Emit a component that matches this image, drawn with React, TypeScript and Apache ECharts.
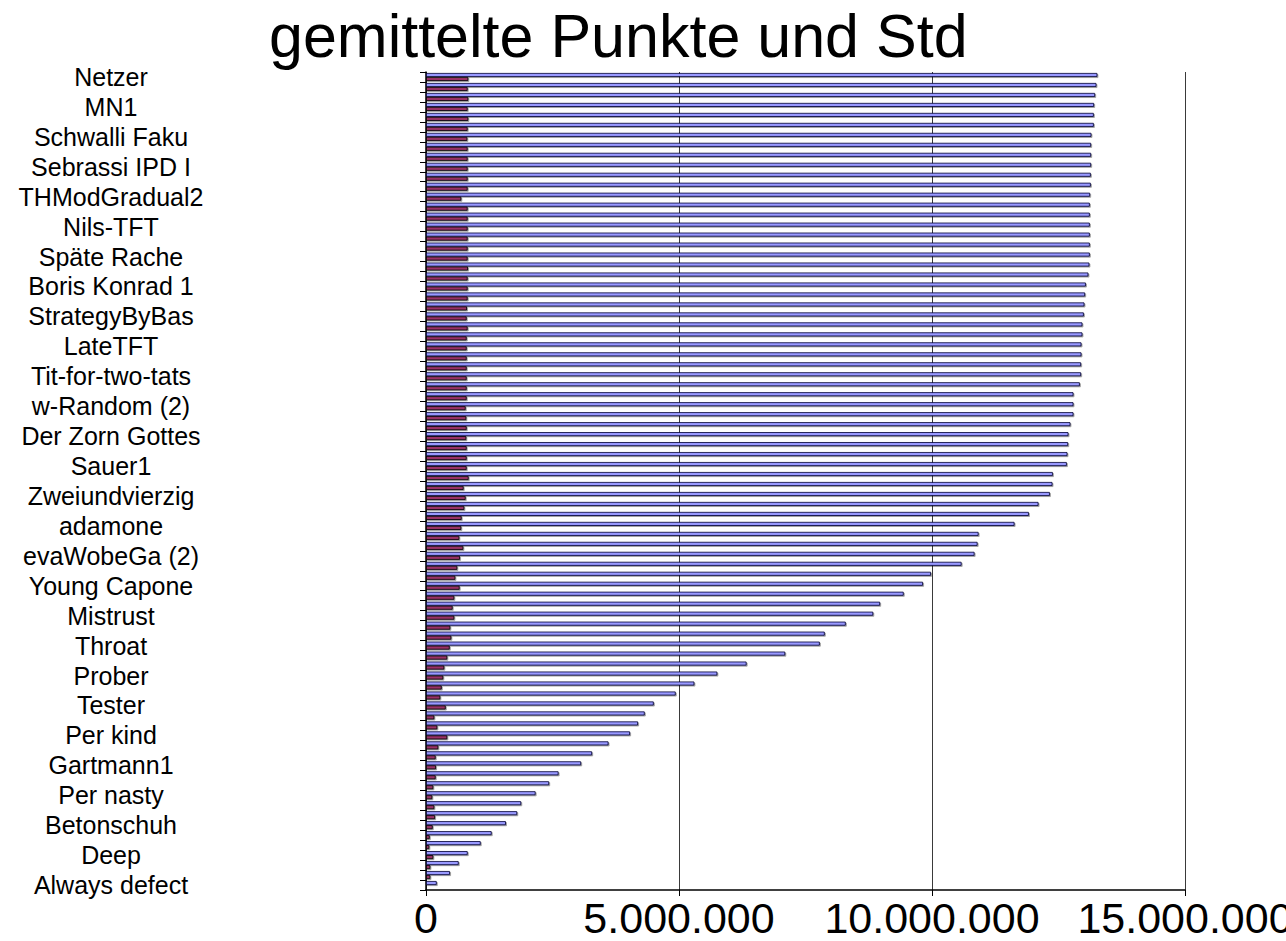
import React, { useEffect, useRef } from "react";
import * as echarts from "echarts";

const chartTitle = "gemittelte Punkte und Std";

// Every third strategy name (top to bottom) as shown on the axis
const strategyLabels = [
  "Netzer", "MN1", "Schwalli Faku", "Sebrassi IPD I", "THModGradual2", "Nils-TFT",
  "Späte Rache", "Boris Konrad 1", "StrategyByBas", "LateTFT", "Tit-for-two-tats",
  "w-Random (2)", "Der Zorn Gottes", "Sauer1", "Zweiundvierzig", "adamone",
  "evaWobeGa (2)", "Young Capone", "Mistrust", "Throat", "Prober", "Tester",
  "Per kind", "Gartmann1", "Per nasty", "Betonschuh", "Deep", "Always defect",
];

// Mean points per strategy, top to bottom
const meanPoints = [
  13268000, 13249000, 13223000, 13203000, 13197000, 13197000, 13150000, 13144000, 13144000, 13144000,
  13138000, 13138000, 13124000, 13118000, 13118000, 13118000, 13118000, 13118000, 13118000, 13110000,
  13090000, 13040000, 13025000, 13012000, 13000000, 12972000, 12972000, 12953000, 12953000, 12946000,
  12946000, 12921000, 12795000, 12795000, 12795000, 12735000, 12696000, 12690000, 12676000, 12664000,
  12388000, 12380000, 12329000, 12104000, 11914000, 11630000, 10920000, 10900000, 10840000, 10584000,
  9980000, 9822000, 9440000, 8974000, 8838000, 8295000, 7880000, 7782000, 7099000, 6335000,
  5757000, 5303000, 4934000, 4500000, 4322000, 4190000, 4032000, 3606000, 3282000, 3065000,
  2619000, 2433000, 2165000, 1881000, 1802000, 1579000, 1297000, 1080000, 823000, 645000,
  474000, 211000,
];

// Standard deviation per strategy, top to bottom
const stdPoints = [
  835000, 822000, 835000, 822000, 835000, 822000, 816000, 822000, 822000, 822000,
  822000, 822000, 697000, 822000, 822000, 822000, 822000, 822000, 822000, 829000,
  822000, 822000, 822000, 809000, 803000, 822000, 803000, 803000, 803000, 803000,
  803000, 803000, 803000, 783000, 796000, 803000, 796000, 803000, 803000, 803000,
  842000, 743000, 783000, 757000, 704000, 697000, 658000, 737000, 671000, 618000,
  579000, 664000, 559000, 526000, 559000, 480000, 500000, 468000, 420000, 361000,
  341000, 310000, 282000, 389000, 164000, 223000, 420000, 243000, 190000, 197000,
  190000, 144000, 124000, 164000, 178000, 132000, 73000, 65000, 144000, 85000,
  85000, 14000,
];

const xTicks = { min: 0, max: 15000000, interval: 5000000 };

const categories = meanPoints.map((_, i) => (i % 3 === 0 ? strategyLabels[i / 3] : ""));

const deFormat = (v: number) => String(Math.round(v)).replace(/\B(?=(\d{3})+(?!\d))/g, ".");

export default function App() {
  const ref = useRef<HTMLDivElement>(null);
  useEffect(() => {
    const chart = echarts.init(ref.current!, null, { renderer: "svg" });
    const font = "'Liberation Sans', Arial, sans-serif";
    chart.setOption({
      animation: false,
      backgroundColor: "#ffffff",
      textStyle: { fontFamily: font },
      graphic: [
        {
          type: "text",
          left: 618 - 349,
          top: 5,
          style: { text: chartTitle, fontSize: 61, fontFamily: font, fill: "#000" },
        },
      ],
      grid: {
        left: 426,
        right: 101,
        top: 72,
        bottom: 51,
        containLabel: false,
        outerBoundsMode: "none",
      },
      xAxis: {
        type: "value",
        min: xTicks.min,
        max: xTicks.max,
        interval: xTicks.interval,
        axisLine: { show: true, lineStyle: { color: "#000", width: 1.5 } },
        axisTick: { show: true, length: 6, lineStyle: { color: "#000" } },
        axisLabel: {
          formatter: deFormat,
          fontSize: 43,
          color: "#000",
          margin: 6,
          fontFamily: font,
          hideOverlap: false,
        },
        splitLine: { show: true, lineStyle: { color: "#3a3a3a", width: 1 } },
      },
      yAxis: {
        type: "category",
        inverse: true,
        data: categories,
        axisLine: { show: true, lineStyle: { color: "#000", width: 1.5 } },
        axisTick: { show: true, length: 6, interval: 0, alignWithLabel: false, lineStyle: { color: "#000" } },
        axisLabel: { interval: 2, fontSize: 25, color: "#000", align: "center", margin: 315, fontFamily: font },
        splitLine: { show: false },
      },
      series: [
        {
          type: "bar",
          name: "Punkte",
          data: meanPoints,
          barWidth: 4,
          barGap: "0%",
          itemStyle: {
            color: "#9999FF",
            borderColor: "#000033",
            borderWidth: 0.8,
            shadowColor: "rgba(0,0,0,0.4)",
            shadowOffsetX: 1,
            shadowOffsetY: 1,
          },
        },
        {
          type: "bar",
          name: "Std",
          data: stdPoints,
          barWidth: 4,
          barGap: "0%",
          itemStyle: {
            color: "#993366",
            borderColor: "#000000",
            borderWidth: 0.8,
            shadowColor: "rgba(0,0,0,0.4)",
            shadowOffsetX: 1,
            shadowOffsetY: 1,
          },
        },
      ],
    });
    return () => chart.dispose();
  }, []);
  return (
    <div
      ref={ref}
      style={{ position: "fixed", left: 0, top: 0, width: 1286, height: 941, background: "#fff" }}
    />
  );
}
